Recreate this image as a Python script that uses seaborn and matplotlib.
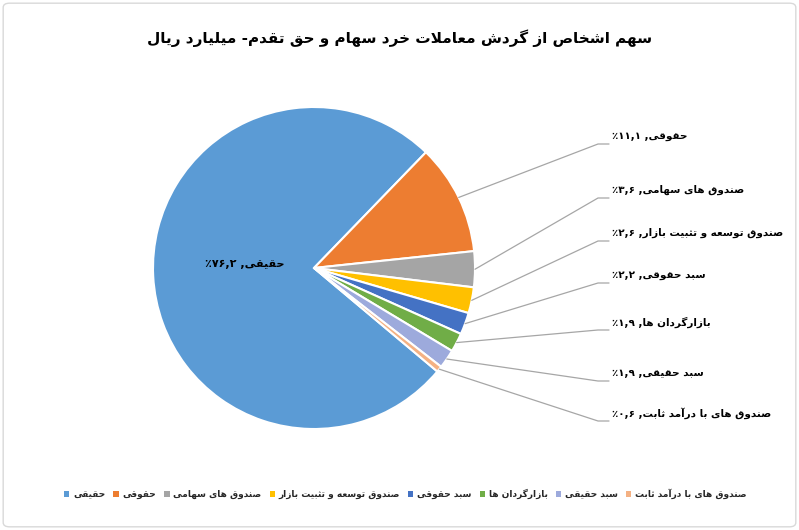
import matplotlib
matplotlib.use("Agg")
import numpy as np
import matplotlib.pyplot as plt
import seaborn as sns
from matplotlib.patches import Patch, FancyBboxPatch

# data
categories = ["حقیقی", "حقوقی", "صندوق های سهامی", "صندوق توسعه و تثبیت بازار",
              "سبد حقوقی", "بازارگردان ها", "سبد حقیقی", "صندوق های با درآمد ثابت"]
shares = [76.2, 11.1, 3.6, 2.6, 2.2, 1.9, 1.9, 0.6]
colors = ["#5B9BD5", "#ED7D31", "#A5A5A5", "#FFC000",
          "#4472C4", "#70AD47", "#9DAADC", "#F4B183"]
title = "سهم اشخاص از گردش معاملات خرد سهام و حق تقدم- میلیارد ریال"

# layout (pixels, top-left origin)
W, H = 799, 530
cx, cy, rad = 314, 268, 161
label_y = [136, 190, 233, 275, 322, 373, 413]   # outside labels, slices 2..8

# tiny arabic shaper: matplotlib has no text shaping / bidi
FORMS = {
    'ا': ('\uFE8D', '\uFE8E', None, None),
    'آ': ('\uFE81', '\uFE82', None, None),
    'ب': ('\uFE8F', '\uFE90', '\uFE91', '\uFE92'),
    'ت': ('\uFE95', '\uFE96', '\uFE97', '\uFE98'),
    'ث': ('\uFE99', '\uFE9A', '\uFE9B', '\uFE9C'),
    'ح': ('\uFEA1', '\uFEA2', '\uFEA3', '\uFEA4'),
    'خ': ('\uFEA5', '\uFEA6', '\uFEA7', '\uFEA8'),
    'د': ('\uFEA9', '\uFEAA', None, None),
    'ر': ('\uFEAD', '\uFEAE', None, None),
    'ز': ('\uFEAF', '\uFEB0', None, None),
    'س': ('\uFEB1', '\uFEB2', '\uFEB3', '\uFEB4'),
    'ش': ('\uFEB5', '\uFEB6', '\uFEB7', '\uFEB8'),
    'ص': ('\uFEB9', '\uFEBA', '\uFEBB', '\uFEBC'),
    'ع': ('\uFEC9', '\uFECA', '\uFECB', '\uFECC'),
    'ق': ('\uFED5', '\uFED6', '\uFED7', '\uFED8'),
    'ل': ('\uFEDD', '\uFEDE', '\uFEDF', '\uFEE0'),
    'م': ('\uFEE1', '\uFEE2', '\uFEE3', '\uFEE4'),
    'ن': ('\uFEE5', '\uFEE6', '\uFEE7', '\uFEE8'),
    'ه': ('\uFEE9', '\uFEEA', '\uFEEB', '\uFEEC'),
    'و': ('\uFEED', '\uFEEE', None, None),
    'ی': ('\uFBFC', '\uFBFD', '\uFBFE', '\uFBFF'),
    'گ': ('\uFB92', '\uFB93', '\uFB94', '\uFB95'),
}
LAM_ALEF = {'ا': ('\uFEFB', '\uFEFC'), 'آ': ('\uFEF5', '\uFEF6')}


def joins_next(c):
    return c in FORMS and FORMS[c][2] is not None


def rtl(text):
    out = []
    i, n = 0, len(text)
    while i < n:
        c = text[i]
        if c not in FORMS:
            out.append(c)
            i += 1
            continue
        jp = i > 0 and joins_next(text[i - 1])
        if c == 'ل' and i + 1 < n and text[i + 1] in LAM_ALEF:
            lig = LAM_ALEF[text[i + 1]]
            out.append(lig[1] if jp else lig[0])
            i += 2
            continue
        jn = joins_next(c) and i + 1 < n and text[i + 1] in FORMS
        iso, fin, ini, med = FORMS[c]
        out.append(med if jp and jn else fin if jp else ini if jn else iso)
        i += 1
    return ''.join(reversed(out))


def fa_num(v):
    return f"{v:.1f}".replace('.', ',').translate(str.maketrans('0123456789', '۰۱۲۳۴۵۶۷۸۹'))


def pie_label(name, v):
    return "٪" + fa_num(v) + " ," + rtl(name)


sns.set_theme(style="white")
plt.rcParams['font.family'] = ['DejaVu Sans']

fig = plt.figure(figsize=(W / 100, H / 100), dpi=100)
ax = fig.add_axes([0, 0, 1, 1])

wedges, _ = ax.pie(shares, colors=colors, startangle=-40, counterclock=False,
                   center=(cx, H - cy), radius=rad, frame=True,
                   wedgeprops=dict(edgecolor="white", linewidth=1.5))
ax.set_xlim(0, W)
ax.set_ylim(0, H)
ax.set_aspect('auto')
ax.axis('off')

# inside label for the big slice
ax.text(245, H - 264, pie_label(categories[0], shares[0]), ha='center', va='center',
        fontsize=8, fontweight='bold', color='black')

# outside labels with leader lines
for w, name, v, ly in zip(wedges[1:], categories[1:], shares[1:], label_y):
    mid = np.deg2rad((w.theta1 + w.theta2) / 2)
    x0 = cx + rad * np.cos(mid)
    y0 = H - cy + rad * np.sin(mid)
    yl = H - (ly + 8)
    ax.plot([x0, 598, 609], [y0, yl, yl], color="#A6A6A6", lw=0.9)
    ax.text(612, H - ly, pie_label(name, v), ha='left', va='center',
            fontsize=7.5, fontweight='bold', color='black')

ax.text(W / 2, H - 38, rtl(title), ha='center', va='center',
        fontsize=11, fontweight='bold', color='black')

handles = [Patch(facecolor=c, edgecolor='none') for c in colors]
ax.legend(handles, [rtl(c) for c in categories], loc='center',
          bbox_to_anchor=(0.507, (H - 494) / H), ncol=8, frameon=False,
          handlelength=0.6, handleheight=0.6, handletextpad=0.4,
          columnspacing=0.9, prop=dict(size=6.5, weight='bold'))

fig.patches.append(FancyBboxPatch((0.004, 0.006), 0.992, 0.988,
                                  boxstyle="round,pad=0,rounding_size=0.008",
                                  transform=fig.transFigure, fill=False,
                                  edgecolor="#D9D9D9", linewidth=1))

fig.savefig("out.png", dpi=100, facecolor="white")
